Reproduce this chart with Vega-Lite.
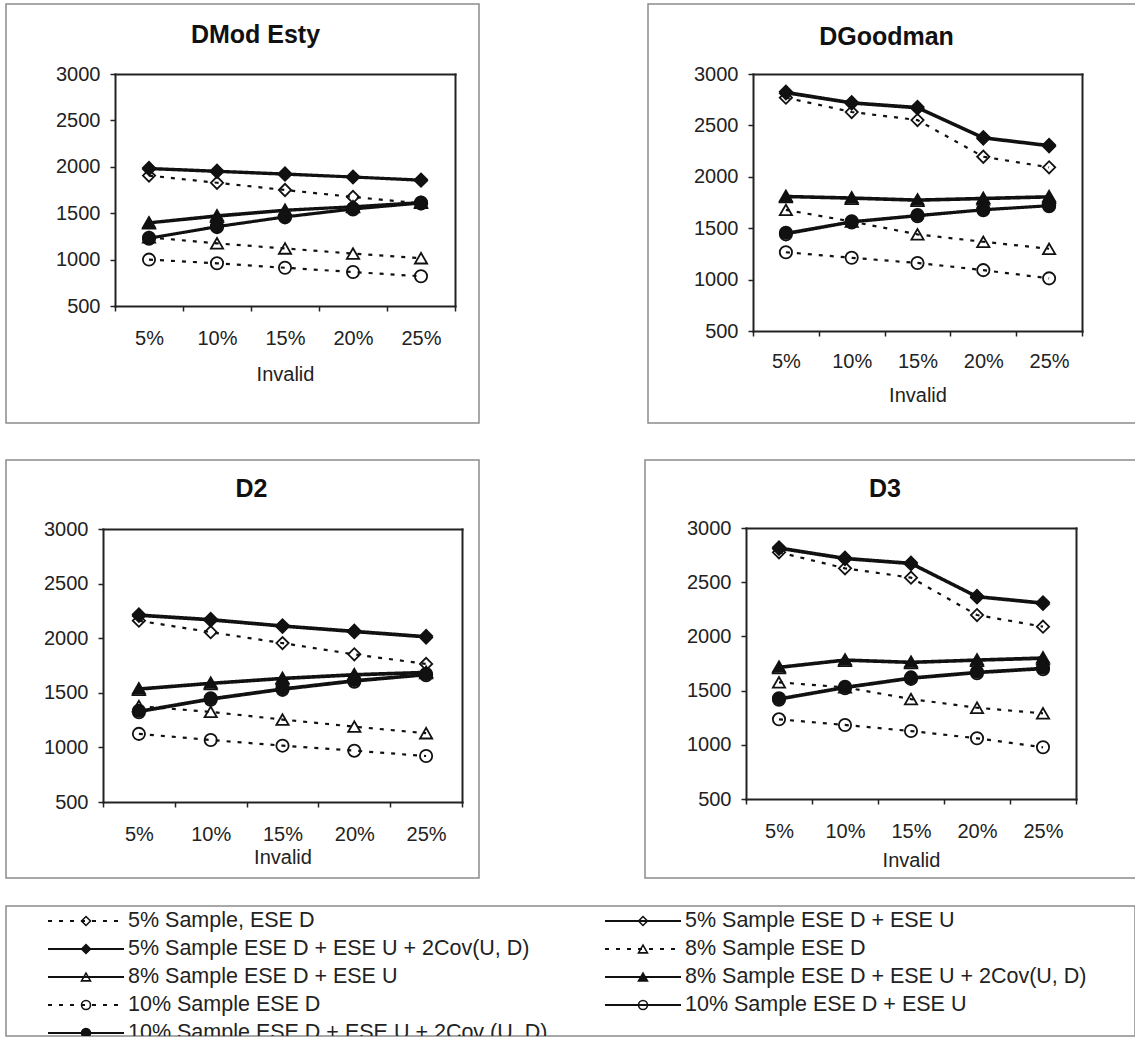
{
  "$schema": "https://vega.github.io/schema/vega-lite/v6.json",
  "padding": {"left": 5, "top": 3, "right": 0, "bottom": 0},
  "background": "white",
  "datasets": {
    "points": [
      {"panel": "DMod Esty", "series": "5% Sample ESE D + ESE U", "invalid": "5%", "value": 1975},
      {"panel": "DMod Esty", "series": "5% Sample ESE D + ESE U", "invalid": "10%", "value": 1945},
      {"panel": "DMod Esty", "series": "5% Sample ESE D + ESE U", "invalid": "15%", "value": 1915},
      {"panel": "DMod Esty", "series": "5% Sample ESE D + ESE U", "invalid": "20%", "value": 1885},
      {"panel": "DMod Esty", "series": "5% Sample ESE D + ESE U", "invalid": "25%", "value": 1850},
      {"panel": "DMod Esty", "series": "8% Sample ESE D + ESE U", "invalid": "5%", "value": 1390},
      {"panel": "DMod Esty", "series": "8% Sample ESE D + ESE U", "invalid": "10%", "value": 1462},
      {"panel": "DMod Esty", "series": "8% Sample ESE D + ESE U", "invalid": "15%", "value": 1525},
      {"panel": "DMod Esty", "series": "8% Sample ESE D + ESE U", "invalid": "20%", "value": 1565},
      {"panel": "DMod Esty", "series": "8% Sample ESE D + ESE U", "invalid": "25%", "value": 1612},
      {"panel": "DMod Esty", "series": "10% Sample ESE D + ESE U", "invalid": "5%", "value": 1225},
      {"panel": "DMod Esty", "series": "10% Sample ESE D + ESE U", "invalid": "10%", "value": 1350},
      {"panel": "DMod Esty", "series": "10% Sample ESE D + ESE U", "invalid": "15%", "value": 1455},
      {"panel": "DMod Esty", "series": "10% Sample ESE D + ESE U", "invalid": "20%", "value": 1540},
      {"panel": "DMod Esty", "series": "10% Sample ESE D + ESE U", "invalid": "25%", "value": 1605},
      {"panel": "DMod Esty", "series": "5% Sample, ESE D", "invalid": "5%", "value": 1905},
      {"panel": "DMod Esty", "series": "5% Sample, ESE D", "invalid": "10%", "value": 1828},
      {"panel": "DMod Esty", "series": "5% Sample, ESE D", "invalid": "15%", "value": 1750},
      {"panel": "DMod Esty", "series": "5% Sample, ESE D", "invalid": "20%", "value": 1675},
      {"panel": "DMod Esty", "series": "5% Sample, ESE D", "invalid": "25%", "value": 1605},
      {"panel": "DMod Esty", "series": "8% Sample ESE D", "invalid": "5%", "value": 1240},
      {"panel": "DMod Esty", "series": "8% Sample ESE D", "invalid": "10%", "value": 1175},
      {"panel": "DMod Esty", "series": "8% Sample ESE D", "invalid": "15%", "value": 1120},
      {"panel": "DMod Esty", "series": "8% Sample ESE D", "invalid": "20%", "value": 1065},
      {"panel": "DMod Esty", "series": "8% Sample ESE D", "invalid": "25%", "value": 1015},
      {"panel": "DMod Esty", "series": "10% Sample ESE D", "invalid": "5%", "value": 1000},
      {"panel": "DMod Esty", "series": "10% Sample ESE D", "invalid": "10%", "value": 960},
      {"panel": "DMod Esty", "series": "10% Sample ESE D", "invalid": "15%", "value": 912},
      {"panel": "DMod Esty", "series": "10% Sample ESE D", "invalid": "20%", "value": 866},
      {"panel": "DMod Esty", "series": "10% Sample ESE D", "invalid": "25%", "value": 820},
      {"panel": "DMod Esty", "series": "5% Sample ESE D + ESE U + 2Cov(U, D)", "invalid": "5%", "value": 1988},
      {"panel": "DMod Esty", "series": "5% Sample ESE D + ESE U + 2Cov(U, D)", "invalid": "10%", "value": 1958},
      {"panel": "DMod Esty", "series": "5% Sample ESE D + ESE U + 2Cov(U, D)", "invalid": "15%", "value": 1928},
      {"panel": "DMod Esty", "series": "5% Sample ESE D + ESE U + 2Cov(U, D)", "invalid": "20%", "value": 1895},
      {"panel": "DMod Esty", "series": "5% Sample ESE D + ESE U + 2Cov(U, D)", "invalid": "25%", "value": 1862},
      {"panel": "DMod Esty", "series": "8% Sample ESE D + ESE U + 2Cov(U, D)", "invalid": "5%", "value": 1402},
      {"panel": "DMod Esty", "series": "8% Sample ESE D + ESE U + 2Cov(U, D)", "invalid": "10%", "value": 1478},
      {"panel": "DMod Esty", "series": "8% Sample ESE D + ESE U + 2Cov(U, D)", "invalid": "15%", "value": 1538},
      {"panel": "DMod Esty", "series": "8% Sample ESE D + ESE U + 2Cov(U, D)", "invalid": "20%", "value": 1575},
      {"panel": "DMod Esty", "series": "8% Sample ESE D + ESE U + 2Cov(U, D)", "invalid": "25%", "value": 1620},
      {"panel": "DMod Esty", "series": "10% Sample ESE D + ESE U + 2Cov (U, D)", "invalid": "5%", "value": 1235},
      {"panel": "DMod Esty", "series": "10% Sample ESE D + ESE U + 2Cov (U, D)", "invalid": "10%", "value": 1360},
      {"panel": "DMod Esty", "series": "10% Sample ESE D + ESE U + 2Cov (U, D)", "invalid": "15%", "value": 1465},
      {"panel": "DMod Esty", "series": "10% Sample ESE D + ESE U + 2Cov (U, D)", "invalid": "20%", "value": 1552},
      {"panel": "DMod Esty", "series": "10% Sample ESE D + ESE U + 2Cov (U, D)", "invalid": "25%", "value": 1615},

      {"panel": "DGoodman", "series": "5% Sample ESE D + ESE U", "invalid": "5%", "value": 2812},
      {"panel": "DGoodman", "series": "5% Sample ESE D + ESE U", "invalid": "10%", "value": 2712},
      {"panel": "DGoodman", "series": "5% Sample ESE D + ESE U", "invalid": "15%", "value": 2665},
      {"panel": "DGoodman", "series": "5% Sample ESE D + ESE U", "invalid": "20%", "value": 2372},
      {"panel": "DGoodman", "series": "5% Sample ESE D + ESE U", "invalid": "25%", "value": 2296},
      {"panel": "DGoodman", "series": "8% Sample ESE D + ESE U", "invalid": "5%", "value": 1802},
      {"panel": "DGoodman", "series": "8% Sample ESE D + ESE U", "invalid": "10%", "value": 1786},
      {"panel": "DGoodman", "series": "8% Sample ESE D + ESE U", "invalid": "15%", "value": 1766},
      {"panel": "DGoodman", "series": "8% Sample ESE D + ESE U", "invalid": "20%", "value": 1782},
      {"panel": "DGoodman", "series": "8% Sample ESE D + ESE U", "invalid": "25%", "value": 1798},
      {"panel": "DGoodman", "series": "10% Sample ESE D + ESE U", "invalid": "5%", "value": 1440},
      {"panel": "DGoodman", "series": "10% Sample ESE D + ESE U", "invalid": "10%", "value": 1556},
      {"panel": "DGoodman", "series": "10% Sample ESE D + ESE U", "invalid": "15%", "value": 1616},
      {"panel": "DGoodman", "series": "10% Sample ESE D + ESE U", "invalid": "20%", "value": 1674},
      {"panel": "DGoodman", "series": "10% Sample ESE D + ESE U", "invalid": "25%", "value": 1714},
      {"panel": "DGoodman", "series": "5% Sample, ESE D", "invalid": "5%", "value": 2770},
      {"panel": "DGoodman", "series": "5% Sample, ESE D", "invalid": "10%", "value": 2630},
      {"panel": "DGoodman", "series": "5% Sample, ESE D", "invalid": "15%", "value": 2552},
      {"panel": "DGoodman", "series": "5% Sample, ESE D", "invalid": "20%", "value": 2195},
      {"panel": "DGoodman", "series": "5% Sample, ESE D", "invalid": "25%", "value": 2092},
      {"panel": "DGoodman", "series": "8% Sample ESE D", "invalid": "5%", "value": 1678},
      {"panel": "DGoodman", "series": "8% Sample ESE D", "invalid": "10%", "value": 1565},
      {"panel": "DGoodman", "series": "8% Sample ESE D", "invalid": "15%", "value": 1440},
      {"panel": "DGoodman", "series": "8% Sample ESE D", "invalid": "20%", "value": 1368},
      {"panel": "DGoodman", "series": "8% Sample ESE D", "invalid": "25%", "value": 1300},
      {"panel": "DGoodman", "series": "10% Sample ESE D", "invalid": "5%", "value": 1266},
      {"panel": "DGoodman", "series": "10% Sample ESE D", "invalid": "10%", "value": 1212},
      {"panel": "DGoodman", "series": "10% Sample ESE D", "invalid": "15%", "value": 1162},
      {"panel": "DGoodman", "series": "10% Sample ESE D", "invalid": "20%", "value": 1092},
      {"panel": "DGoodman", "series": "10% Sample ESE D", "invalid": "25%", "value": 1012},
      {"panel": "DGoodman", "series": "5% Sample ESE D + ESE U + 2Cov(U, D)", "invalid": "5%", "value": 2828},
      {"panel": "DGoodman", "series": "5% Sample ESE D + ESE U + 2Cov(U, D)", "invalid": "10%", "value": 2726},
      {"panel": "DGoodman", "series": "5% Sample ESE D + ESE U + 2Cov(U, D)", "invalid": "15%", "value": 2680},
      {"panel": "DGoodman", "series": "5% Sample ESE D + ESE U + 2Cov(U, D)", "invalid": "20%", "value": 2386},
      {"panel": "DGoodman", "series": "5% Sample ESE D + ESE U + 2Cov(U, D)", "invalid": "25%", "value": 2310},
      {"panel": "DGoodman", "series": "8% Sample ESE D + ESE U + 2Cov(U, D)", "invalid": "5%", "value": 1815},
      {"panel": "DGoodman", "series": "8% Sample ESE D + ESE U + 2Cov(U, D)", "invalid": "10%", "value": 1800},
      {"panel": "DGoodman", "series": "8% Sample ESE D + ESE U + 2Cov(U, D)", "invalid": "15%", "value": 1780},
      {"panel": "DGoodman", "series": "8% Sample ESE D + ESE U + 2Cov(U, D)", "invalid": "20%", "value": 1796},
      {"panel": "DGoodman", "series": "8% Sample ESE D + ESE U + 2Cov(U, D)", "invalid": "25%", "value": 1812},
      {"panel": "DGoodman", "series": "10% Sample ESE D + ESE U + 2Cov (U, D)", "invalid": "5%", "value": 1455},
      {"panel": "DGoodman", "series": "10% Sample ESE D + ESE U + 2Cov (U, D)", "invalid": "10%", "value": 1568},
      {"panel": "DGoodman", "series": "10% Sample ESE D + ESE U + 2Cov (U, D)", "invalid": "15%", "value": 1628},
      {"panel": "DGoodman", "series": "10% Sample ESE D + ESE U + 2Cov (U, D)", "invalid": "20%", "value": 1684},
      {"panel": "DGoodman", "series": "10% Sample ESE D + ESE U + 2Cov (U, D)", "invalid": "25%", "value": 1724},

      {"panel": "D2", "series": "5% Sample ESE D + ESE U", "invalid": "5%", "value": 2204},
      {"panel": "D2", "series": "5% Sample ESE D + ESE U", "invalid": "10%", "value": 2162},
      {"panel": "D2", "series": "5% Sample ESE D + ESE U", "invalid": "15%", "value": 2105},
      {"panel": "D2", "series": "5% Sample ESE D + ESE U", "invalid": "20%", "value": 2055},
      {"panel": "D2", "series": "5% Sample ESE D + ESE U", "invalid": "25%", "value": 2006},
      {"panel": "D2", "series": "8% Sample ESE D + ESE U", "invalid": "5%", "value": 1528},
      {"panel": "D2", "series": "8% Sample ESE D + ESE U", "invalid": "10%", "value": 1580},
      {"panel": "D2", "series": "8% Sample ESE D + ESE U", "invalid": "15%", "value": 1625},
      {"panel": "D2", "series": "8% Sample ESE D + ESE U", "invalid": "20%", "value": 1658},
      {"panel": "D2", "series": "8% Sample ESE D + ESE U", "invalid": "25%", "value": 1680},
      {"panel": "D2", "series": "10% Sample ESE D + ESE U", "invalid": "5%", "value": 1322},
      {"panel": "D2", "series": "10% Sample ESE D + ESE U", "invalid": "10%", "value": 1436},
      {"panel": "D2", "series": "10% Sample ESE D + ESE U", "invalid": "15%", "value": 1527},
      {"panel": "D2", "series": "10% Sample ESE D + ESE U", "invalid": "20%", "value": 1602},
      {"panel": "D2", "series": "10% Sample ESE D + ESE U", "invalid": "25%", "value": 1660},
      {"panel": "D2", "series": "5% Sample, ESE D", "invalid": "5%", "value": 2160},
      {"panel": "D2", "series": "5% Sample, ESE D", "invalid": "10%", "value": 2055},
      {"panel": "D2", "series": "5% Sample, ESE D", "invalid": "15%", "value": 1955},
      {"panel": "D2", "series": "5% Sample, ESE D", "invalid": "20%", "value": 1852},
      {"panel": "D2", "series": "5% Sample, ESE D", "invalid": "25%", "value": 1764},
      {"panel": "D2", "series": "8% Sample ESE D", "invalid": "5%", "value": 1378},
      {"panel": "D2", "series": "8% Sample ESE D", "invalid": "10%", "value": 1325},
      {"panel": "D2", "series": "8% Sample ESE D", "invalid": "15%", "value": 1255},
      {"panel": "D2", "series": "8% Sample ESE D", "invalid": "20%", "value": 1190},
      {"panel": "D2", "series": "8% Sample ESE D", "invalid": "25%", "value": 1130},
      {"panel": "D2", "series": "10% Sample ESE D", "invalid": "5%", "value": 1124},
      {"panel": "D2", "series": "10% Sample ESE D", "invalid": "10%", "value": 1068},
      {"panel": "D2", "series": "10% Sample ESE D", "invalid": "15%", "value": 1016},
      {"panel": "D2", "series": "10% Sample ESE D", "invalid": "20%", "value": 970},
      {"panel": "D2", "series": "10% Sample ESE D", "invalid": "25%", "value": 921},
      {"panel": "D2", "series": "5% Sample ESE D + ESE U + 2Cov(U, D)", "invalid": "5%", "value": 2218},
      {"panel": "D2", "series": "5% Sample ESE D + ESE U + 2Cov(U, D)", "invalid": "10%", "value": 2176},
      {"panel": "D2", "series": "5% Sample ESE D + ESE U + 2Cov(U, D)", "invalid": "15%", "value": 2118},
      {"panel": "D2", "series": "5% Sample ESE D + ESE U + 2Cov(U, D)", "invalid": "20%", "value": 2069},
      {"panel": "D2", "series": "5% Sample ESE D + ESE U + 2Cov(U, D)", "invalid": "25%", "value": 2020},
      {"panel": "D2", "series": "8% Sample ESE D + ESE U + 2Cov(U, D)", "invalid": "5%", "value": 1541},
      {"panel": "D2", "series": "8% Sample ESE D + ESE U + 2Cov(U, D)", "invalid": "10%", "value": 1593},
      {"panel": "D2", "series": "8% Sample ESE D + ESE U + 2Cov(U, D)", "invalid": "15%", "value": 1638},
      {"panel": "D2", "series": "8% Sample ESE D + ESE U + 2Cov(U, D)", "invalid": "20%", "value": 1672},
      {"panel": "D2", "series": "8% Sample ESE D + ESE U + 2Cov(U, D)", "invalid": "25%", "value": 1693},
      {"panel": "D2", "series": "10% Sample ESE D + ESE U + 2Cov (U, D)", "invalid": "5%", "value": 1336},
      {"panel": "D2", "series": "10% Sample ESE D + ESE U + 2Cov (U, D)", "invalid": "10%", "value": 1450},
      {"panel": "D2", "series": "10% Sample ESE D + ESE U + 2Cov (U, D)", "invalid": "15%", "value": 1541},
      {"panel": "D2", "series": "10% Sample ESE D + ESE U + 2Cov (U, D)", "invalid": "20%", "value": 1617},
      {"panel": "D2", "series": "10% Sample ESE D + ESE U + 2Cov (U, D)", "invalid": "25%", "value": 1672},

      {"panel": "D3", "series": "5% Sample ESE D + ESE U", "invalid": "5%", "value": 2808},
      {"panel": "D3", "series": "5% Sample ESE D + ESE U", "invalid": "10%", "value": 2712},
      {"panel": "D3", "series": "5% Sample ESE D + ESE U", "invalid": "15%", "value": 2666},
      {"panel": "D3", "series": "5% Sample ESE D + ESE U", "invalid": "20%", "value": 2360},
      {"panel": "D3", "series": "5% Sample ESE D + ESE U", "invalid": "25%", "value": 2300},
      {"panel": "D3", "series": "8% Sample ESE D + ESE U", "invalid": "5%", "value": 1708},
      {"panel": "D3", "series": "8% Sample ESE D + ESE U", "invalid": "10%", "value": 1775},
      {"panel": "D3", "series": "8% Sample ESE D + ESE U", "invalid": "15%", "value": 1754},
      {"panel": "D3", "series": "8% Sample ESE D + ESE U", "invalid": "20%", "value": 1775},
      {"panel": "D3", "series": "8% Sample ESE D + ESE U", "invalid": "25%", "value": 1792},
      {"panel": "D3", "series": "10% Sample ESE D + ESE U", "invalid": "5%", "value": 1416},
      {"panel": "D3", "series": "10% Sample ESE D + ESE U", "invalid": "10%", "value": 1522},
      {"panel": "D3", "series": "10% Sample ESE D + ESE U", "invalid": "15%", "value": 1608},
      {"panel": "D3", "series": "10% Sample ESE D + ESE U", "invalid": "20%", "value": 1660},
      {"panel": "D3", "series": "10% Sample ESE D + ESE U", "invalid": "25%", "value": 1697},
      {"panel": "D3", "series": "5% Sample, ESE D", "invalid": "5%", "value": 2776},
      {"panel": "D3", "series": "5% Sample, ESE D", "invalid": "10%", "value": 2628},
      {"panel": "D3", "series": "5% Sample, ESE D", "invalid": "15%", "value": 2542},
      {"panel": "D3", "series": "5% Sample, ESE D", "invalid": "20%", "value": 2197},
      {"panel": "D3", "series": "5% Sample, ESE D", "invalid": "25%", "value": 2090},
      {"panel": "D3", "series": "8% Sample ESE D", "invalid": "5%", "value": 1576},
      {"panel": "D3", "series": "8% Sample ESE D", "invalid": "10%", "value": 1530},
      {"panel": "D3", "series": "8% Sample ESE D", "invalid": "15%", "value": 1422},
      {"panel": "D3", "series": "8% Sample ESE D", "invalid": "20%", "value": 1342},
      {"panel": "D3", "series": "8% Sample ESE D", "invalid": "25%", "value": 1290},
      {"panel": "D3", "series": "10% Sample ESE D", "invalid": "5%", "value": 1235},
      {"panel": "D3", "series": "10% Sample ESE D", "invalid": "10%", "value": 1183},
      {"panel": "D3", "series": "10% Sample ESE D", "invalid": "15%", "value": 1127},
      {"panel": "D3", "series": "10% Sample ESE D", "invalid": "20%", "value": 1060},
      {"panel": "D3", "series": "10% Sample ESE D", "invalid": "25%", "value": 977},
      {"panel": "D3", "series": "5% Sample ESE D + ESE U + 2Cov(U, D)", "invalid": "5%", "value": 2822},
      {"panel": "D3", "series": "5% Sample ESE D + ESE U + 2Cov(U, D)", "invalid": "10%", "value": 2726},
      {"panel": "D3", "series": "5% Sample ESE D + ESE U + 2Cov(U, D)", "invalid": "15%", "value": 2680},
      {"panel": "D3", "series": "5% Sample ESE D + ESE U + 2Cov(U, D)", "invalid": "20%", "value": 2373},
      {"panel": "D3", "series": "5% Sample ESE D + ESE U + 2Cov(U, D)", "invalid": "25%", "value": 2314},
      {"panel": "D3", "series": "8% Sample ESE D + ESE U + 2Cov(U, D)", "invalid": "5%", "value": 1721},
      {"panel": "D3", "series": "8% Sample ESE D + ESE U + 2Cov(U, D)", "invalid": "10%", "value": 1788},
      {"panel": "D3", "series": "8% Sample ESE D + ESE U + 2Cov(U, D)", "invalid": "15%", "value": 1767},
      {"panel": "D3", "series": "8% Sample ESE D + ESE U + 2Cov(U, D)", "invalid": "20%", "value": 1788},
      {"panel": "D3", "series": "8% Sample ESE D + ESE U + 2Cov(U, D)", "invalid": "25%", "value": 1807},
      {"panel": "D3", "series": "10% Sample ESE D + ESE U + 2Cov (U, D)", "invalid": "5%", "value": 1429},
      {"panel": "D3", "series": "10% Sample ESE D + ESE U + 2Cov (U, D)", "invalid": "10%", "value": 1536},
      {"panel": "D3", "series": "10% Sample ESE D + ESE U + 2Cov (U, D)", "invalid": "15%", "value": 1622},
      {"panel": "D3", "series": "10% Sample ESE D + ESE U + 2Cov (U, D)", "invalid": "20%", "value": 1674},
      {"panel": "D3", "series": "10% Sample ESE D + ESE U + 2Cov (U, D)", "invalid": "25%", "value": 1711}
    ],
    "legend": [
      {"series": "5% Sample, ESE D", "col": "left", "row": 1},
      {"series": "5% Sample ESE D + ESE U", "col": "right", "row": 1},
      {"series": "5% Sample ESE D + ESE U + 2Cov(U, D)", "col": "left", "row": 2},
      {"series": "8% Sample ESE D", "col": "right", "row": 2},
      {"series": "8% Sample ESE D + ESE U", "col": "left", "row": 3},
      {"series": "8% Sample ESE D + ESE U + 2Cov(U, D)", "col": "right", "row": 3},
      {"series": "10% Sample ESE D", "col": "left", "row": 4},
      {"series": "10% Sample ESE D + ESE U", "col": "right", "row": 4},
      {"series": "10% Sample ESE D + ESE U + 2Cov (U, D)", "col": "left", "row": 5}
    ]
  },
  "data": {"name": "points"},
  "spacing": 26,
  "vconcat": [
    {
      "spacing": 35,
      "vconcat": [
        {
          "spacing": 167,
          "hconcat": [
            {
              "width": 473, "height": 419,
              "title": {"text": "DMod Esty", "offset": -64, "dx": 13, "frame": "group", "anchor": "middle", "baseline": "alphabetic"},
              "transform": [{"filter": "datum.panel === 'DMod Esty'"}],
              "layer": [
                {
                  "mark": {"type": "line", "stroke": "#111", "strokeWidth": 2.2},
                  "encoding": {
                    "x": {"field": "invalid", "type": "ordinal", "sort": ["5%", "10%", "15%", "20%", "25%"],
                      "scale": {"type": "band", "range": [109, 449], "paddingInner": 0, "paddingOuter": 0},
                      "axis": {"orient": "bottom", "offset": -117, "labelPadding": 33, "titleY": 74, "title": "Invalid"}},
                    "y": {"field": "value", "type": "quantitative",
                      "scale": {"domain": [500, 3000], "range": [302, 70], "nice": false, "zero": false},
                      "axis": {"orient": "left", "offset": -109, "values": [500, 1000, 1500, 2000, 2500, 3000], "format": "d", "title": null}},
                    "strokeDash": {"field": "series", "type": "nominal", "legend": null,
                      "scale": {"domain": ["5% Sample, ESE D", "5% Sample ESE D + ESE U", "5% Sample ESE D + ESE U + 2Cov(U, D)", "8% Sample ESE D", "8% Sample ESE D + ESE U", "8% Sample ESE D + ESE U + 2Cov(U, D)", "10% Sample ESE D", "10% Sample ESE D + ESE U", "10% Sample ESE D + ESE U + 2Cov (U, D)"],
                        "range": [[4, 7], [1, 0], [1, 0], [4, 7], [1, 0], [1, 0], [4, 7], [1, 0], [1, 0]]}},
                    "order": {"value": null}
                  }
                },
                {
                  "mark": {"type": "point", "filled": true, "opacity": 1, "size": 150, "stroke": "#111", "strokeWidth": 1.8},
                  "encoding": {
                    "x": {"field": "invalid", "type": "ordinal", "sort": ["5%", "10%", "15%", "20%", "25%"],
                      "axis": {"orient": "top", "offset": -70, "title": null}},
                    "y": {"field": "value", "type": "quantitative",
                      "axis": {"orient": "right", "offset": -24, "title": null}},
                    "shape": {"field": "series", "type": "nominal", "legend": null,
                      "scale": {"domain": ["5% Sample, ESE D", "5% Sample ESE D + ESE U", "5% Sample ESE D + ESE U + 2Cov(U, D)", "8% Sample ESE D", "8% Sample ESE D + ESE U", "8% Sample ESE D + ESE U + 2Cov(U, D)", "10% Sample ESE D", "10% Sample ESE D + ESE U", "10% Sample ESE D + ESE U + 2Cov (U, D)"],
                        "range": ["diamond", "diamond", "diamond", "triangle-up", "triangle-up", "triangle-up", "circle", "circle", "circle"]}},
                    "fill": {"field": "series", "type": "nominal", "legend": null,
                      "scale": {"domain": ["5% Sample, ESE D", "5% Sample ESE D + ESE U", "5% Sample ESE D + ESE U + 2Cov(U, D)", "8% Sample ESE D", "8% Sample ESE D + ESE U", "8% Sample ESE D + ESE U + 2Cov(U, D)", "10% Sample ESE D", "10% Sample ESE D + ESE U", "10% Sample ESE D + ESE U + 2Cov (U, D)"],
                        "range": ["transparent", "transparent", "#111", "transparent", "transparent", "#111", "transparent", "transparent", "#111"]}}
                  }
                }
              ],
              "resolve": {"axis": {"x": "independent", "y": "independent"}}
            },
            {
              "width": 489, "height": 419,
              "title": {"text": "DGoodman", "offset": -66, "dx": -6, "frame": "group", "anchor": "middle", "baseline": "alphabetic"},
              "transform": [{"filter": "datum.panel === 'DGoodman'"}],
              "layer": [
                {
                  "mark": {"type": "line", "stroke": "#111", "strokeWidth": 2.2},
                  "encoding": {
                    "x": {"field": "invalid", "type": "ordinal", "sort": ["5%", "10%", "15%", "20%", "25%"],
                      "scale": {"type": "band", "range": [105, 434], "paddingInner": 0, "paddingOuter": 0},
                      "axis": {"orient": "bottom", "offset": -92, "labelPadding": 31, "titleY": 70, "title": "Invalid"}},
                    "y": {"field": "value", "type": "quantitative",
                      "scale": {"domain": [500, 3000], "range": [327, 70], "nice": false, "zero": false},
                      "axis": {"orient": "left", "offset": -105, "values": [500, 1000, 1500, 2000, 2500, 3000], "format": "d", "title": null}},
                    "strokeDash": {"field": "series", "type": "nominal", "legend": null,
                      "scale": {"domain": ["5% Sample, ESE D", "5% Sample ESE D + ESE U", "5% Sample ESE D + ESE U + 2Cov(U, D)", "8% Sample ESE D", "8% Sample ESE D + ESE U", "8% Sample ESE D + ESE U + 2Cov(U, D)", "10% Sample ESE D", "10% Sample ESE D + ESE U", "10% Sample ESE D + ESE U + 2Cov (U, D)"],
                        "range": [[4, 7], [1, 0], [1, 0], [4, 7], [1, 0], [1, 0], [4, 7], [1, 0], [1, 0]]}},
                    "order": {"value": null}
                  }
                },
                {
                  "mark": {"type": "point", "filled": true, "opacity": 1, "size": 150, "stroke": "#111", "strokeWidth": 1.8},
                  "encoding": {
                    "x": {"field": "invalid", "type": "ordinal", "sort": ["5%", "10%", "15%", "20%", "25%"],
                      "axis": {"orient": "top", "offset": -70, "title": null}},
                    "y": {"field": "value", "type": "quantitative",
                      "axis": {"orient": "right", "offset": -55, "title": null}},
                    "shape": {"field": "series", "type": "nominal", "legend": null,
                      "scale": {"domain": ["5% Sample, ESE D", "5% Sample ESE D + ESE U", "5% Sample ESE D + ESE U + 2Cov(U, D)", "8% Sample ESE D", "8% Sample ESE D + ESE U", "8% Sample ESE D + ESE U + 2Cov(U, D)", "10% Sample ESE D", "10% Sample ESE D + ESE U", "10% Sample ESE D + ESE U + 2Cov (U, D)"],
                        "range": ["diamond", "diamond", "diamond", "triangle-up", "triangle-up", "triangle-up", "circle", "circle", "circle"]}},
                    "fill": {"field": "series", "type": "nominal", "legend": null,
                      "scale": {"domain": ["5% Sample, ESE D", "5% Sample ESE D + ESE U", "5% Sample ESE D + ESE U + 2Cov(U, D)", "8% Sample ESE D", "8% Sample ESE D + ESE U", "8% Sample ESE D + ESE U + 2Cov(U, D)", "10% Sample ESE D", "10% Sample ESE D + ESE U", "10% Sample ESE D + ESE U + 2Cov (U, D)"],
                        "range": ["transparent", "transparent", "#111", "transparent", "transparent", "#111", "transparent", "transparent", "#111"]}}
                  }
                }
              ],
              "resolve": {"axis": {"x": "independent", "y": "independent"}}
            }
          ]
        },
        {
          "spacing": 164,
          "hconcat": [
            {
              "width": 473, "height": 418,
              "title": {"text": "D2", "offset": -62, "dx": 9, "frame": "group", "anchor": "middle", "baseline": "alphabetic"},
              "transform": [{"filter": "datum.panel === 'D2'"}],
              "layer": [
                {
                  "mark": {"type": "line", "stroke": "#111", "strokeWidth": 2.2},
                  "encoding": {
                    "x": {"field": "invalid", "type": "ordinal", "sort": ["5%", "10%", "15%", "20%", "25%"],
                      "scale": {"type": "band", "range": [97, 456], "paddingInner": 0, "paddingOuter": 0},
                      "axis": {"orient": "bottom", "offset": -76, "labelPadding": 33, "titleY": 61, "title": "Invalid"}},
                    "y": {"field": "value", "type": "quantitative",
                      "scale": {"domain": [500, 3000], "range": [342, 69], "nice": false, "zero": false},
                      "axis": {"orient": "left", "offset": -97, "values": [500, 1000, 1500, 2000, 2500, 3000], "format": "d", "title": null}},
                    "strokeDash": {"field": "series", "type": "nominal", "legend": null,
                      "scale": {"domain": ["5% Sample, ESE D", "5% Sample ESE D + ESE U", "5% Sample ESE D + ESE U + 2Cov(U, D)", "8% Sample ESE D", "8% Sample ESE D + ESE U", "8% Sample ESE D + ESE U + 2Cov(U, D)", "10% Sample ESE D", "10% Sample ESE D + ESE U", "10% Sample ESE D + ESE U + 2Cov (U, D)"],
                        "range": [[4, 7], [1, 0], [1, 0], [4, 7], [1, 0], [1, 0], [4, 7], [1, 0], [1, 0]]}},
                    "order": {"value": null}
                  }
                },
                {
                  "mark": {"type": "point", "filled": true, "opacity": 1, "size": 150, "stroke": "#111", "strokeWidth": 1.8},
                  "encoding": {
                    "x": {"field": "invalid", "type": "ordinal", "sort": ["5%", "10%", "15%", "20%", "25%"],
                      "axis": {"orient": "top", "offset": -69, "title": null}},
                    "y": {"field": "value", "type": "quantitative",
                      "axis": {"orient": "right", "offset": -17, "title": null}},
                    "shape": {"field": "series", "type": "nominal", "legend": null,
                      "scale": {"domain": ["5% Sample, ESE D", "5% Sample ESE D + ESE U", "5% Sample ESE D + ESE U + 2Cov(U, D)", "8% Sample ESE D", "8% Sample ESE D + ESE U", "8% Sample ESE D + ESE U + 2Cov(U, D)", "10% Sample ESE D", "10% Sample ESE D + ESE U", "10% Sample ESE D + ESE U + 2Cov (U, D)"],
                        "range": ["diamond", "diamond", "diamond", "triangle-up", "triangle-up", "triangle-up", "circle", "circle", "circle"]}},
                    "fill": {"field": "series", "type": "nominal", "legend": null,
                      "scale": {"domain": ["5% Sample, ESE D", "5% Sample ESE D + ESE U", "5% Sample ESE D + ESE U + 2Cov(U, D)", "8% Sample ESE D", "8% Sample ESE D + ESE U", "8% Sample ESE D + ESE U + 2Cov(U, D)", "10% Sample ESE D", "10% Sample ESE D + ESE U", "10% Sample ESE D + ESE U + 2Cov (U, D)"],
                        "range": ["transparent", "transparent", "#111", "transparent", "transparent", "#111", "transparent", "transparent", "#111"]}}
                  }
                }
              ],
              "resolve": {"axis": {"x": "independent", "y": "independent"}}
            },
            {
              "width": 492, "height": 418,
              "title": {"text": "D3", "offset": -62, "dx": -6, "frame": "group", "anchor": "middle", "baseline": "alphabetic"},
              "transform": [{"filter": "datum.panel === 'D3'"}],
              "layer": [
                {
                  "mark": {"type": "line", "stroke": "#111", "strokeWidth": 2.2},
                  "encoding": {
                    "x": {"field": "invalid", "type": "ordinal", "sort": ["5%", "10%", "15%", "20%", "25%"],
                      "scale": {"type": "band", "range": [101, 431], "paddingInner": 0, "paddingOuter": 0},
                      "axis": {"orient": "bottom", "offset": -79, "labelPadding": 33, "titleY": 67, "title": "Invalid"}},
                    "y": {"field": "value", "type": "quantitative",
                      "scale": {"domain": [500, 3000], "range": [339, 68], "nice": false, "zero": false},
                      "axis": {"orient": "left", "offset": -101, "values": [500, 1000, 1500, 2000, 2500, 3000], "format": "d", "title": null}},
                    "strokeDash": {"field": "series", "type": "nominal", "legend": null,
                      "scale": {"domain": ["5% Sample, ESE D", "5% Sample ESE D + ESE U", "5% Sample ESE D + ESE U + 2Cov(U, D)", "8% Sample ESE D", "8% Sample ESE D + ESE U", "8% Sample ESE D + ESE U + 2Cov(U, D)", "10% Sample ESE D", "10% Sample ESE D + ESE U", "10% Sample ESE D + ESE U + 2Cov (U, D)"],
                        "range": [[4, 7], [1, 0], [1, 0], [4, 7], [1, 0], [1, 0], [4, 7], [1, 0], [1, 0]]}},
                    "order": {"value": null}
                  }
                },
                {
                  "mark": {"type": "point", "filled": true, "opacity": 1, "size": 150, "stroke": "#111", "strokeWidth": 1.8},
                  "encoding": {
                    "x": {"field": "invalid", "type": "ordinal", "sort": ["5%", "10%", "15%", "20%", "25%"],
                      "axis": {"orient": "top", "offset": -68, "title": null}},
                    "y": {"field": "value", "type": "quantitative",
                      "axis": {"orient": "right", "offset": -61, "title": null}},
                    "shape": {"field": "series", "type": "nominal", "legend": null,
                      "scale": {"domain": ["5% Sample, ESE D", "5% Sample ESE D + ESE U", "5% Sample ESE D + ESE U + 2Cov(U, D)", "8% Sample ESE D", "8% Sample ESE D + ESE U", "8% Sample ESE D + ESE U + 2Cov(U, D)", "10% Sample ESE D", "10% Sample ESE D + ESE U", "10% Sample ESE D + ESE U + 2Cov (U, D)"],
                        "range": ["diamond", "diamond", "diamond", "triangle-up", "triangle-up", "triangle-up", "circle", "circle", "circle"]}},
                    "fill": {"field": "series", "type": "nominal", "legend": null,
                      "scale": {"domain": ["5% Sample, ESE D", "5% Sample ESE D + ESE U", "5% Sample ESE D + ESE U + 2Cov(U, D)", "8% Sample ESE D", "8% Sample ESE D + ESE U", "8% Sample ESE D + ESE U + 2Cov(U, D)", "10% Sample ESE D", "10% Sample ESE D + ESE U", "10% Sample ESE D + ESE U + 2Cov (U, D)"],
                        "range": ["transparent", "transparent", "#111", "transparent", "transparent", "#111", "transparent", "transparent", "#111"]}}
                  }
                }
              ],
              "resolve": {"axis": {"x": "independent", "y": "independent"}}
            }
          ]
        }
      ]
    },
    {
      "width": 1129, "height": 130,
      "data": {"name": "legend"},
      "layer": [
        {
          "mark": {"type": "rule", "stroke": "#111", "strokeWidth": 2, "xOffset": -38, "x2Offset": 38, "clip": true},
          "encoding": {
            "x": {"field": "col", "type": "ordinal", "scale": {"type": "point", "domain": ["left", "right"], "range": [80, 637], "padding": 0}, "axis": null},
            "x2": {"field": "col"},
            "y": {"field": "row", "type": "ordinal", "scale": {"type": "point", "domain": [1, 2, 3, 4, 5], "range": [15, 127], "padding": 0}, "axis": null},
            "strokeDash": {"field": "series", "type": "nominal", "legend": null,
              "scale": {"domain": ["5% Sample, ESE D", "5% Sample ESE D + ESE U", "5% Sample ESE D + ESE U + 2Cov(U, D)", "8% Sample ESE D", "8% Sample ESE D + ESE U", "8% Sample ESE D + ESE U + 2Cov(U, D)", "10% Sample ESE D", "10% Sample ESE D + ESE U", "10% Sample ESE D + ESE U + 2Cov (U, D)"],
                "range": [[4, 7], [1, 0], [1, 0], [4, 7], [1, 0], [1, 0], [4, 7], [1, 0], [1, 0]]}}
          }
        },
        {
          "mark": {"type": "point", "filled": true, "opacity": 1, "size": 80, "stroke": "#111", "strokeWidth": 1.6, "clip": true},
          "encoding": {
            "x": {"field": "col", "type": "ordinal", "axis": null},
            "y": {"field": "row", "type": "ordinal", "axis": null},
            "shape": {"field": "series", "type": "nominal", "legend": null,
              "scale": {"domain": ["5% Sample, ESE D", "5% Sample ESE D + ESE U", "5% Sample ESE D + ESE U + 2Cov(U, D)", "8% Sample ESE D", "8% Sample ESE D + ESE U", "8% Sample ESE D + ESE U + 2Cov(U, D)", "10% Sample ESE D", "10% Sample ESE D + ESE U", "10% Sample ESE D + ESE U + 2Cov (U, D)"],
                "range": ["diamond", "diamond", "diamond", "triangle-up", "triangle-up", "triangle-up", "circle", "circle", "circle"]}},
            "fill": {"field": "series", "type": "nominal", "legend": null,
              "scale": {"domain": ["5% Sample, ESE D", "5% Sample ESE D + ESE U", "5% Sample ESE D + ESE U + 2Cov(U, D)", "8% Sample ESE D", "8% Sample ESE D + ESE U", "8% Sample ESE D + ESE U + 2Cov(U, D)", "10% Sample ESE D", "10% Sample ESE D + ESE U", "10% Sample ESE D + ESE U + 2Cov (U, D)"],
                "range": ["white", "white", "#111", "white", "white", "#111", "white", "white", "#111"]}}
          }
        },
        {
          "mark": {"type": "text", "align": "left", "baseline": "middle", "dx": 42, "fontSize": 21.5, "font": "Liberation Sans", "color": "#222", "clip": true},
          "encoding": {
            "x": {"field": "col", "type": "ordinal", "axis": null},
            "y": {"field": "row", "type": "ordinal", "axis": null},
            "text": {"field": "series"}
          }
        }
      ]
    }
  ],
  "config": {
    "font": "Liberation Sans",
    "view": {"stroke": "#8c8c8c", "strokeWidth": 1.5},
    "title": {"font": "Liberation Sans", "fontSize": 25, "fontWeight": "bold", "color": "#111"},
    "axis": {
      "grid": false, "domainColor": "#222", "domainWidth": 2, "domainCap": "square",
      "tickColor": "#222", "tickWidth": 1.5,
      "labelFont": "Liberation Sans", "labelFontSize": 20, "labelColor": "#222", "labelOverlap": false,
      "titleFont": "Liberation Sans", "titleFontSize": 20, "titleFontWeight": "normal", "titleColor": "#222"
    },
    "axisBottom": {"tickBand": "extent", "tickSize": 5, "labelAngle": 0, "labelBaseline": "alphabetic", "titleBaseline": "alphabetic"},
    "axisLeft": {"tickSize": 5, "labelPadding": 10},
    "axisTop": {"labels": false, "ticks": false},
    "axisRight": {"labels": false, "ticks": false}
  }
}
